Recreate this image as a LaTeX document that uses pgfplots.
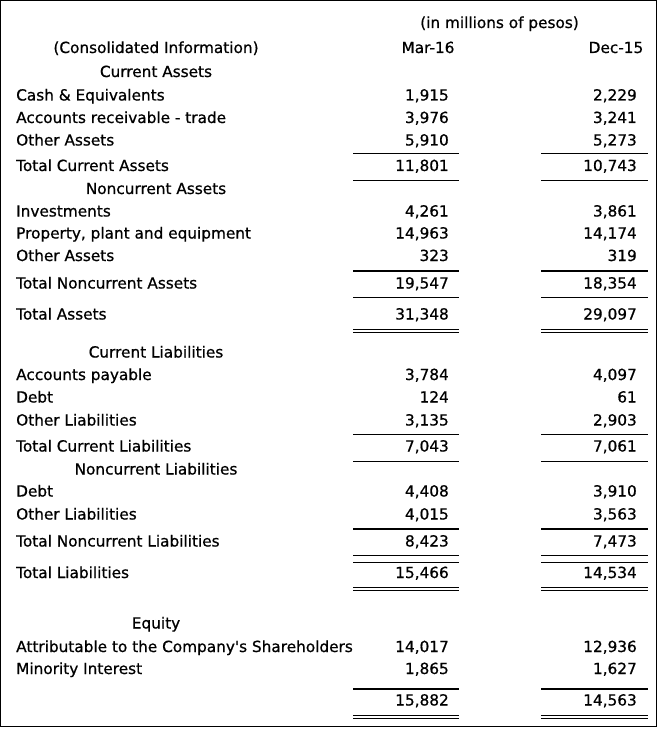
\documentclass[border=0pt]{standalone}
\usepackage{fontspec}
\setmainfont{DejaVu Sans}[BoldFont={DejaVu Sans},BoldFeatures={FakeBold=0.7}]
\usepackage{pgfplots}
\pgfplotsset{compat=1.18}
\usepackage{pgfplotstable}

\pgfplotstableread{
y mar dec
100.5 1915 2229
123 3976 3241
145.5 5910 5273
171 11801 10743
216.5 4261 3861
238.5 14963 14174
261 323 319
288.5 19547 18354
319.5 31348 29097
380 3784 4097
402.5 124 61
425.5 3135 2903
451.5 7043 7061
496.5 4408 3910
519.5 4015 3563
546.5 8423 7473
578 15466 14534
652 14017 12936
674 1865 1627
705.5 15882 14563
}\values

\newcommand\fnt{\fontsize{15.3bp}{18bp}\selectfont\bfseries}
\newcommand\hr[2]{\draw[line width=#2bp] (axis cs:353,#1)--(axis cs:459,#1) (axis cs:541,#1)--(axis cs:648,#1);}
\newcommand\lab[2]{\node[anchor=base west,inner sep=0pt] at (axis cs:16,#1) {#2};}
\newcommand\head[2]{\node[anchor=base,inner sep=0pt] at (axis cs:156,#1) {#2};}

\begin{document}
\begin{tikzpicture}[font=\fnt]
\begin{axis}[
  width=662bp, height=729bp, scale only axis,
  xmin=0, xmax=662, ymin=0, ymax=729, y dir=reverse,
  hide axis, clip=false,
  nodes near coords={\pgfmathprintnumber[fixed,precision=0,1000 sep={,},assume math mode=true]{\pgfplotspointmeta}},
  nodes near coords style={anchor=base east, inner sep=0pt, font=\fnt},
]
\path (axis cs:0,0) rectangle (axis cs:662,729);
\draw[line width=1bp] (axis cs:0.5,0.5) rectangle (axis cs:656.5,726.5);

\addplot[draw=none, mark=none, point meta=explicit] table[x expr=449, y=y, meta=mar] {\values};
\addplot[draw=none, mark=none, point meta=explicit] table[x expr=637, y=y, meta=dec] {\values};

\node[anchor=base,inner sep=0pt] at (axis cs:499.5,28) {(in millions of pesos)};
\node[anchor=base,inner sep=0pt] at (axis cs:428,53) {Mar-16};
\node[anchor=base,inner sep=0pt] at (axis cs:616,53) {Dec-15};

\head{53}{(Consolidated Information)}
\head{77}{Current Assets}
\lab{100.5}{Cash \& Equivalents}
\lab{123}{Accounts receivable - trade}
\lab{145.5}{Other Assets}
\lab{171}{Total Current Assets}
\head{194}{Noncurrent Assets}
\lab{216.5}{Investments}
\lab{238.5}{Property, plant and equipment}
\lab{261}{Other Assets}
\lab{288.5}{Total Noncurrent Assets}
\lab{319.5}{Total Assets}
\head{357.5}{Current Liabilities}
\lab{380}{Accounts payable}
\lab{402.5}{Debt}
\lab{425.5}{Other Liabilities}
\lab{451.5}{Total Current Liabilities}
\head{474.5}{Noncurrent Liabilities}
\lab{496.5}{Debt}
\lab{519.5}{Other Liabilities}
\lab{546.5}{Total Noncurrent Liabilities}
\lab{578}{Total Liabilities}
\head{628.5}{Equity}
\lab{652}{Attributable to the Company\textquotesingle s Shareholders}
\lab{674}{Minority Interest}

\hr{153.5}{1}
\hr{181}{1}
\hr{271}{2}
\hr{297.5}{1}
\hr{329.3}{1}
\hr{332}{1}
\hr{434.5}{1}
\hr{461.5}{1}
\hr{529}{2}
\hr{555.2}{1}
\hr{562.3}{1}
\hr{587.8}{1}
\hr{590.5}{1}
\hr{689}{2}
\hr{715.3}{1}
\hr{718}{1}
\end{axis}
\end{tikzpicture}
\end{document}
